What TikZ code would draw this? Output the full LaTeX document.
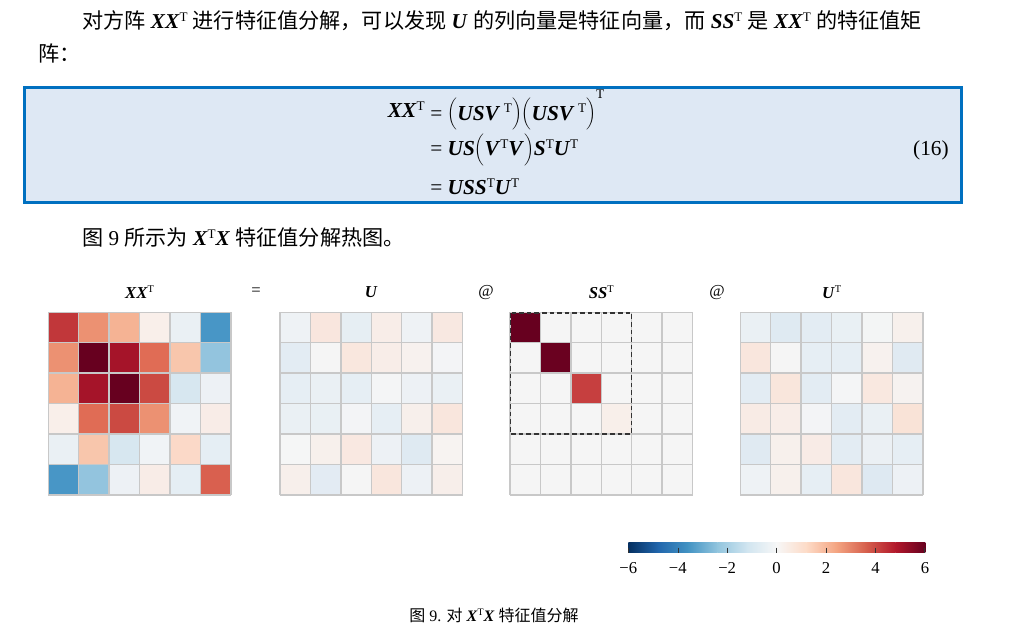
\documentclass[tikz,border=0pt]{standalone}
\usepackage{fontspec}
\setmainfont{Liberation Serif}
\newfontfamily\cjk{Noto Sans CJK SC}
\newcommand\bi[1]{\textbf{\textit{#1}}}
\newcommand\sT{\raisebox{0.34em}{\normalfont\scalebox{0.62}{T}}}
\newcommand\C[1]{{\cjk #1}}
\definecolor{boxblue}{HTML}{0070C0}
\definecolor{boxfill}{HTML}{DEE8F4}
\definecolor{gridc}{HTML}{C8C8C8}
\definecolor{tickc}{HTML}{333333}
\tikzset{
  gridline/.style={draw=gridc,line width=1pt},
  body/.style={inner sep=0pt,anchor=west,font=\fontsize{15.85}{19}\selectfont},
  eqn/.style={inner sep=0pt,font=\fontsize{16}{19}\selectfont},
  title/.style={inner sep=0pt,font=\fontsize{12.5}{14}\selectfont},
  ticklab/.style={inner sep=0pt,font=\fontsize{12.5}{14}\selectfont},
  tickmark/.style={draw=tickc,line width=0.8pt},
  dashbox/.style={draw=tickc,line width=1.1pt,dash pattern=on 3.5pt off 2.2pt},
}
\newcommand\hmap[2]{%
  \foreach \c [count=\i from 0] in {#2} {
    \pgfmathtruncatemacro\rr{div(\i,6)}
    \pgfmathtruncatemacro\cc{mod(\i,6)}
    \definecolor{cellc}{HTML}{\c}
    \fill[cellc] ({#1+\cc*30.43},{312.3+\rr*30.43}) rectangle ++(30.43,30.43);
  }
  \foreach \k in {0,...,6} {
    \draw[gridline] ({#1+\k*30.43},312.3) -- ++(0,182.6);
    \draw[gridline] (#1,{312.3+\k*30.43}) -- ++(182.6,0);
  }
}
\begin{document}
\begin{tikzpicture}[x=0.75pt,y=-0.75pt]
\useasboundingbox[fill=white] (0,0) rectangle (1022,631);
% body text
\node[body] (l1) at (82,21) {\C{对方阵} \bi{XX}\sT{} \C{进行特征值分解，可以发现} \bi{U} \C{的列向量是特征向量，而} \bi{SS}\sT{} \C{是} \bi{XX}\sT{} \C{的特征值矩}};
\node[body] (l2) at (38,53) {\C{阵：}};
% equation box
\draw[fill=boxfill,draw=boxblue,line width=2.25pt] (24.5,87.5) rectangle (961.5,202.5);
\node[eqn,anchor=east] (e0) at (425,110) {\bi{XX}\sT};
\node[eqn,anchor=west] (e1) at (430,110) {= \(\biggl(\)\bi{USV}\,\sT\(\biggr)\biggl(\)\bi{USV}\,\sT\(\biggr)\)\raisebox{1.5ex}{\sT}};
\node[eqn,anchor=west] (e2) at (430,150) {= \bi{US}\(\biggl(\)\bi{V}\sT\bi{V}\(\biggr)\)\bi{S}\sT\bi{U}\sT};
\node[eqn,anchor=west] (e3) at (430,187) {= \bi{USS}\sT\bi{U}\sT};
\node[eqn,anchor=east] (num) at (949,150) {(16)};
\node[body] (l3) at (82,238) {\C{图} 9 \C{所示为} \bi{X}\sT\bi{X} \C{特征值分解热图。}};
% titles
\node[title] (t1) at (139.6,292) {\bi{XX}\sT};
\node[title] (eq) at (256,292) {=};
\node[title] (t2) at (371.3,292) {\bi{U}};
\node[title] (at1) at (486,293) {@};
\node[title] (t3) at (601.3,292) {\bi{SS}\sT};
\node[title] (at2) at (717,293) {@};
\node[title] (t4) at (831.6,292) {\bi{U}\sT};
% heatmaps
\hmap{48.3}{C1373A,EC9172,F5B394,F9EFEA,EAF0F4,4896C6,%
EC9172,67001F,A51429,E06C55,F8C6AC,93C4DE,%
F5B394,A51429,67001F,CB4A42,D7E7F0,EDF1F5,%
F9EFEA,E06C55,CB4A42,EC9172,F0F3F6,F8ECE7,%
EAF0F4,F8C6AC,D7E7F0,F0F3F6,FBD9C8,E5EEF4,%
4896C6,93C4DE,EDF1F5,F8ECE7,E5EEF4,D9604F}
\hmap{280}{EEF2F5,F9E6DE,E6EEF3,F8EDE8,EEF2F5,F8E8E1,%
E3ECF3,F5F5F5,F9E7DE,F8EDE8,F7F1EE,F3F4F6,%
E6EEF4,EAF0F4,E6EEF4,F4F5F6,EDF1F5,EAF0F4,%
EAF0F4,E9F0F4,F3F4F6,E6EEF4,F7EFEB,F9E6DD,%
F5F6F6,F7F0EC,F9E8E1,EDF1F5,DFEAF2,F7F3F1,%
F7EFEB,E3EBF3,F5F5F5,F9E6DD,EDF1F5,F7EEEA}
\hmap{510}{67001F,F5F5F5,F5F5F5,F5F5F5,F5F5F5,F5F5F5,%
F5F5F5,6A0120,F5F5F5,F5F5F5,F5F5F5,F5F5F5,%
F5F5F5,F5F5F5,C63F3F,F5F5F5,F5F5F5,F5F5F5,%
F5F5F5,F5F5F5,F5F5F5,F8EFEA,F5F5F5,F5F5F5,%
F5F5F5,F5F5F5,F5F5F5,F5F5F5,F5F5F5,F5F5F5,%
F5F5F5,F5F5F5,F5F5F5,F5F5F5,F5F5F5,F5F5F5}
\hmap{740.3}{EAF0F4,DFEAF2,E3ECF3,E9F0F4,F3F5F5,F7F0EC,%
F9E6DD,F5F5F5,E6EEF4,E6EEF4,F7F1EE,E0EAF2,%
E3ECF3,F9E6DC,E3ECF3,F4F5F6,F9E8E0,F6F2F0,%
F8EBE5,F8EDE8,F3F4F6,E3ECF3,EAF0F4,F9E3D7,%
E0EAF2,F7F0EC,F8EBE6,E3ECF3,EBF0F4,E6EEF4,%
EEF2F5,F7F0EC,E6EEF4,F9E6DD,DEE9F2,EDF1F5}
\draw[dashbox] (510.6,312.9) rectangle (631.7,434);
% colorbar
\foreach \a/\b [count=\i from 0] in {053061/2166AC,2166AC/4393C3,4393C3/92C5DE,92C5DE/D1E5F0,D1E5F0/F7F7F7,F7F7F7/FDDBC7,FDDBC7/F4A582,F4A582/D6604D,D6604D/B2182B,B2182B/67001F} {
  \definecolor{ca}{HTML}{\a}\definecolor{cb}{HTML}{\b}
  \shade[left color=ca,right color=cb] ({628.3+\i*29.67},542.3) rectangle ({628.3+(\i+1)*29.67+0.4},552.7);
}
\foreach \k/\lab in {0/−6,1/−4,2/−2,3/0,4/2,5/4,6/6} {
  \draw[tickmark] ({628.8+\k*49.35},547.5) -- ++(0,5.2);
  \node[ticklab] (tl\k) at ({628.3+\k*49.45},568) {\lab};
}
% caption
\node[inner sep=0pt,font=\fontsize{12}{14}\selectfont] (cap) at (494,615) {\C{图} 9. \C{对} \bi{X}\sT\bi{X} \C{特征值分解}};
\end{tikzpicture}
\end{document}
